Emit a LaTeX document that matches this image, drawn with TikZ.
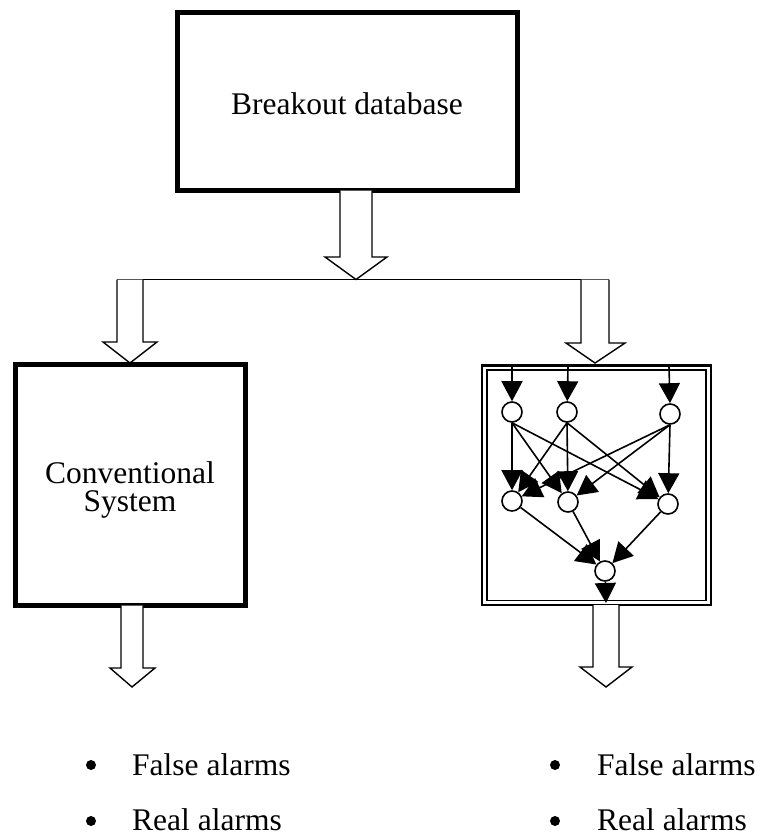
\documentclass[tikz,border=0pt]{standalone}
\usepackage{fontspec}
\setmainfont{Liberation Serif}
\usetikzlibrary{arrows.meta}
\tikzset{
  thickbox/.style={draw, line width=5pt},
  blockarrow/.style={draw, line width=1.4pt, line join=miter, fill=white},
  neuron/.style={circle, draw, line width=1.6pt, minimum size=20pt, inner sep=0pt, fill=white},
  link/.style={line width=1.6pt, -{Triangle[length=20pt,width=21pt]}},
  txt/.style={font=\fontsize{31.5}{28}\selectfont, inner sep=0pt},
  bulletdot/.style={circle, fill=black, minimum size=10pt, inner sep=0pt},
}
\begin{document}
\begin{tikzpicture}[x=1pt,y=-1pt]
\useasboundingbox (0,0) rectangle (760,837);

% top box
\draw[thickbox] (177.5,12.5) rectangle (517.5,190.5);
\node[txt, anchor=base] (db) at (347,115) {Breakout database};

% block arrow from database
\draw[blockarrow] (340,190.5) -- (340,257) -- (325,257) -- (356,279.5) -- (387,257) -- (372,257) -- (372,190.5);

% horizontal distribution line and down arrows
\draw[line width=1.4pt] (117,279.5) -- (609,279.5);
\draw[blockarrow] (117,279.5) -- (117,342) -- (103,342) -- (130,363) -- (157,342) -- (143,342) -- (143,279.5);
\draw[blockarrow] (581,279.5) -- (581,343) -- (566,343) -- (595,363) -- (625,343) -- (609,343) -- (609,279.5);

% conventional system box
\draw[thickbox] (15.5,364.5) rectangle (245.5,605.5);
\node[txt, align=center, anchor=base] (conv) at (130,511) {Conventional\\System};

% neural network box (double frame)
\draw[line width=2.6pt] (482,365.5) rectangle (711,605);
\draw[line width=1.8pt] (487,370) rectangle (706,600.5);

\coordinate (in1) at (512,367);
\coordinate (in2) at (568,367);
\coordinate (in3) at (669,367);
\coordinate (out) at (606,603);

\node[neuron] (t1) at (512,412) {};
\node[neuron] (t2) at (567,412) {};
\node[neuron] (t3) at (670,414) {};
\node[neuron] (m1) at (512,501) {};
\node[neuron] (m2) at (568,502) {};
\node[neuron] (m3) at (668,504) {};
\node[neuron] (b) at (605,571) {};

\draw[link] (in1) -- (t1);
\draw[link] (in2) -- (t2);
\draw[link] (in3) -- (t3.north);

\foreach \s in {t1,t2,t3}{
  \foreach \d in {m1,m2,m3}{
    \draw[link] (\s.south) -- (\d);
  }
}
\foreach \s in {m1,m2,m3}{
  \draw[link] (\s) -- (b);
}
\draw[link] (b) -- (out);

% output block arrows
\draw[blockarrow] (121,605.5) -- (121,668) -- (110,668) -- (132,687) -- (155,668) -- (143,668) -- (143,605.5);
\draw[blockarrow] (593,605) -- (593,667) -- (580,667) -- (606,687) -- (632,667) -- (619,667) -- (619,605);

% result lists
\node[bulletdot] (bl1) at (91,765) {};
\node[txt, anchor=base west] (l1) at (132,775) {False alarms};
\node[bulletdot] (bl2) at (91,821) {};
\node[txt, anchor=base west] (l2) at (132,830) {Real alarms};
\node[bulletdot] (br1) at (555,765) {};
\node[txt, anchor=base west] (r1) at (597,775) {False alarms};
\node[bulletdot] (br2) at (555,821) {};
\node[txt, anchor=base west] (r2) at (597,830) {Real alarms};
\end{tikzpicture}
\end{document}
